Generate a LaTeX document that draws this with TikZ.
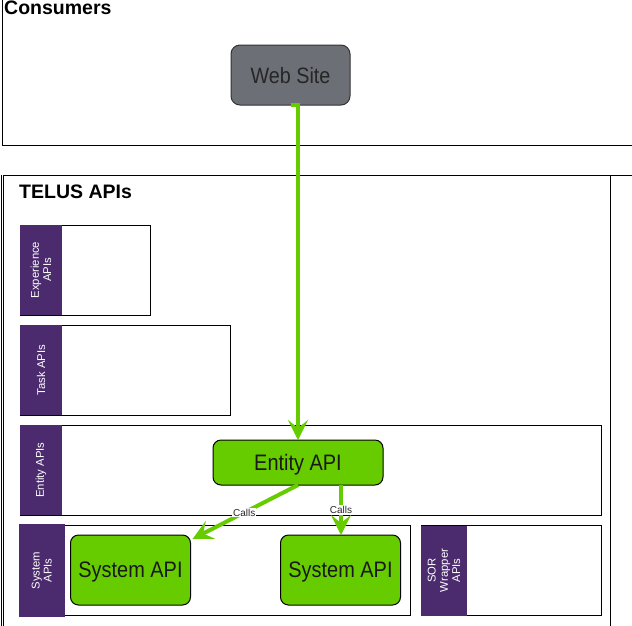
\documentclass[tikz,border=0pt]{standalone}
\usepackage{fontspec}
\setmainfont{Liberation Sans}
\newfontfamily\tallfont[FakeStretch=0.89]{Liberation Sans}
\usetikzlibrary{arrows.meta}
\definecolor{apigreen}{HTML}{66CC00}
\definecolor{bandpurple}{HTML}{4B2A6E}
\definecolor{wsgray}{HTML}{6D6F76}
\tikzset{
 lane/.style={draw=black, line width=1pt, inner sep=0, outer sep=0, anchor=north west},
 band/.style={fill=bandpurple, draw=none, inner sep=0, outer sep=0, anchor=north west},
 bandtxt/.style={text=white, font=\fontsize{11.3}{12.2}\selectfont, align=center, rotate=90, inner sep=0},
 api/.style={draw=black, line width=1pt, fill=apigreen, rounded corners=8pt, inner sep=0, outer sep=0, anchor=north west, font=\tallfont\fontsize{22.4}{26}\selectfont, text=black!90, text depth=0pt},
 website/.style={draw=black!80, line width=1pt, fill=wsgray, rounded corners=9pt, inner sep=0, outer sep=0, anchor=north west, font=\tallfont\fontsize{22.2}{26}\selectfont, text=black!85, text depth=0pt},
 garrow/.style={draw=apigreen, line width=4pt, -{Stealth[length=20pt,width=20pt,inset=8pt]}},
 calls/.style={fill=white, inner sep=1pt, font=\fontsize{10}{11}\selectfont, text=black!85},
 paneltitle/.style={font=\fontsize{19.5}{22}\selectfont\bfseries, anchor=base west, inner sep=0},
}
\begin{document}
\begin{tikzpicture}[x=1pt,y=-1pt]
\useasboundingbox (0,0) rectangle (632,625);
\fill[white] (0,0) rectangle (632,625);
% Consumers panel
\node[lane, minimum width=660pt, minimum height=160pt, anchor=south west] (consumers) at (2,145) {};
\node[paneltitle] (constitle) at (4,14.5) {Consumers};
\node[website, minimum width=119pt, minimum height=60pt] (ws) at (231,45) {Web Site};
% TELUS panel
\node[lane, minimum width=607pt, minimum height=480pt] (telus) at (3,175) {};
\draw[line width=1pt] (telus.north west) ++(-2,0) coordinate (tl) -- ++(0,470);
\draw[line width=1pt] (telus.north east) -- ++(30,0) coordinate (tr);
\node[paneltitle] (telustitle) at (19,198) {TELUS APIs};
% Experience
\node[lane, minimum width=130pt, minimum height=90pt] (exp) at (20,225) {};
\node[band, minimum width=42pt, minimum height=90pt] (expb) at (20,225) {};
\node[bandtxt] (expt) at (expb.center) {Experience\\APIs};
% Task
\node[lane, minimum width=210pt, minimum height=90pt] (task) at (20,325) {};
\node[band, minimum width=42pt, minimum height=90pt] (taskb) at (20,325) {};
\node[bandtxt] (taskt) at (taskb.center) {Task APIs};
% Entity
\node[lane, minimum width=581pt, minimum height=90pt] (entl) at (20,425) {};
\node[band, minimum width=42pt, minimum height=90pt] (entb) at (20,425) {};
\node[bandtxt] (entt) at (entb.center) {Entity APIs};
\node[api, minimum width=170pt, minimum height=45pt] (ent) at (213,440) {Entity API};
% System
\node[lane, minimum width=391pt, minimum height=90pt] (sysl) at (19,525.5) {};
\node[band, minimum width=45.5pt, minimum height=93pt] (sysb) at (19,524) {};
\node[bandtxt] (syst) at (sysb.center) {System\\APIs};
\node[api, minimum width=120pt, minimum height=70pt] (sys1) at (70.5,535) {System API};
\node[api, minimum width=120pt, minimum height=70pt] (sys2) at (280.5,535) {System API};
% SOR Wrapper
\node[lane, minimum width=180pt, minimum height=90pt] (sorl) at (421,525.5) {};
\node[band, minimum width=46pt, minimum height=90pt] (sorb) at (421,525.5) {};
\node[bandtxt] (sort) at (sorb.center) {SOR\\Wrapper\\APIs};
% connectors
\draw[garrow] (ws.south) -| (ent.north);
\draw[garrow] ([xshift=0pt]ent.south) -- node[calls, pos=0.51] (c1) {Calls} ([shift={(2,4)}]sys1.north east);
\draw[garrow] ([xshift=43pt]ent.south) -- node[calls, pos=0.5] (c2) {Calls} ([xshift=43pt]ent.south |- sys2.north);
\end{tikzpicture}
\end{document}
